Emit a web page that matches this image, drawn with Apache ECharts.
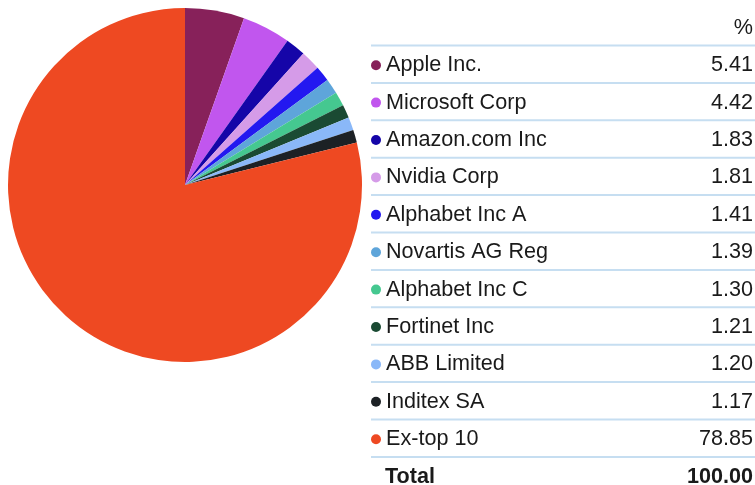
<!DOCTYPE html>
<html>
<head>
<meta charset="UTF-8">
<title>top 10 holdings</title>
<script src="https://cdn.jsdelivr.net/npm/echarts@6/dist/echarts.min.js"></script>
<style>
  body { margin: 0; padding: 0; background: #fff; }
  #main { width: 755px; height: 485px; }
</style>
</head>
<body>
<div id="main"></div>
<script>
// holdings and their weight in %
const names = ['Apple Inc.', 'Microsoft Corp', 'Amazon.com Inc', 'Nvidia Corp', 'Alphabet Inc A',
  'Novartis AG Reg', 'Alphabet Inc C', 'Fortinet Inc', 'ABB Limited', 'Inditex SA', 'Ex-top 10'];
const weights = [5.41, 4.42, 1.83, 1.81, 1.41, 1.39, 1.30, 1.21, 1.20, 1.17, 78.85];
const totalLabel = 'Total';
const totalValue = 100.00;
const unitLabel = '%';

const palette = ['#87215a', '#c156ee', '#1505a8', '#d59be8', '#2318f0', '#5ea5da',
  '#45c890', '#1a4a33', '#8ab8f8', '#1c2125', '#ee4922'];

const FONT = 'Arial, "Liberation Sans", sans-serif';
const FS = 21.6;
const TXT = '#1a1a1a';
const rowH = 37.4;
const firstLine = 45.5;
const tableLeft = 371, tableRight = 755, textRight = 753;

const chart = echarts.init(document.getElementById('main'), null, {renderer: 'canvas'});

// separator lines of the table
const lines = [];
for (let i = 0; i <= names.length; i++) {
  const y = firstLine + i * rowH;
  lines.push({
    type: 'line', silent: true,
    shape: {x1: tableLeft, y1: y, x2: tableRight, y2: y},
    style: {stroke: '#c6def1', lineWidth: 2}
  });
}
const totalY = firstLine + names.length * rowH + rowH / 2 + 1;

chart.setOption({
  color: palette,
  animation: false,
  legend: {
    orient: 'vertical',
    left: tableLeft,
    top: firstLine + rowH / 2 - 11 + 1,
    padding: 0,
    itemGap: rowH - 22,
    itemWidth: 10,
    itemHeight: 10,
    icon: 'circle',
    selectedMode: false,
    data: names,
    formatter: function (name) {
      const v = weights[names.indexOf(name)];
      return '{n|' + name + '}{v|' + v.toFixed(2) + '}';
    },
    textStyle: {
      color: TXT,
      fontFamily: FONT,
      fontSize: FS,
      lineHeight: 22,
      rich: {
        n: {width: 282, fontSize: FS, fontFamily: FONT, color: TXT, lineHeight: 22},
        v: {width: 85, align: 'right', fontSize: FS, fontFamily: FONT, color: TXT, lineHeight: 22}
      }
    }
  },
  graphic: lines.concat([
    {
      type: 'text', silent: true,
      style: {x: textRight, y: 28, text: unitLabel, textAlign: 'right', textVerticalAlign: 'middle',
        font: FS + 'px ' + FONT, fill: TXT}
    },
    {
      type: 'text', silent: true,
      style: {x: 385, y: totalY, text: totalLabel, textAlign: 'left', textVerticalAlign: 'middle',
        font: 'bold ' + FS + 'px ' + FONT, fill: TXT}
    },
    {
      type: 'text', silent: true,
      style: {x: textRight, y: totalY, text: totalValue.toFixed(2), textAlign: 'right', textVerticalAlign: 'middle',
        font: 'bold ' + FS + 'px ' + FONT, fill: TXT}
    }
  ]),
  series: [
    {
      type: 'pie',
      center: [185, 185],
      radius: [0, 177],
      startAngle: 90,
      clockwise: true,
      label: {show: false},
      labelLine: {show: false},
      itemStyle: {borderWidth: 0},
      emphasis: {disabled: true},
      data: names.map((n, i) => ({name: n, value: weights[i]}))
    }
  ]
});
</script>
</body>
</html>
